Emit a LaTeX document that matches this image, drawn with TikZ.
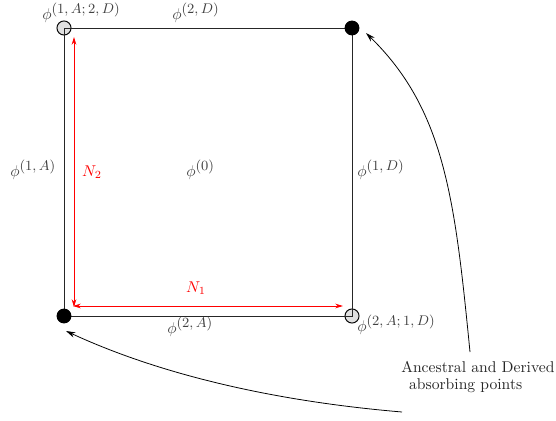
\documentclass[tikz,border=0pt]{standalone}
\usetikzlibrary{arrows.meta}
\newcommand\ph[1]{\phi^{\mbox{\small$#1$}}}
\begin{document}
\begin{tikzpicture}[x=0.64pt,y=-0.64pt,
  edge/.style={draw=black!85, line width=0.6pt},
  redarr/.style={draw=red, line width=0.6pt, {Stealth[length=5pt,width=3pt]}-{Stealth[length=5pt,width=3pt]}},
  callout/.style={draw=black, line width=0.5pt, -{Stealth[length=6pt,width=3.5pt]}},
  lbl/.style={text=black!75, inner sep=0pt, anchor=west},
  rlbl/.style={text=red, inner sep=0pt},
  opendot/.style={circle, draw=black, fill=black!12, line width=0.6pt, minimum size=9pt, inner sep=0pt},
  fulldot/.style={circle, fill=black, minimum size=9.5pt, inner sep=0pt}]
\useasboundingbox (0,0) rectangle (556,421);
% corners
\node[opendot] (tl) at (64,28) {};
\node[opendot] (br) at (352,316) {};
\coordinate (TL) at (64,28);
\coordinate (TR) at (352,28);
\coordinate (BL) at (64,316);
\coordinate (BR) at (352,316);
\draw[edge] (TL) -- (TR) -- (BR) -- (BL) -- cycle;
\node[fulldot] (tr) at (352,28) {};
\node[fulldot] (bl) at (64,316) {};
% red arrows
\coordinate (v1) at (74,37);
\coordinate (v2) at (74,307);
\coordinate (h1) at (73,306);
\coordinate (h2) at (343,306);
\draw[redarr] (v1) -- (v2);
\draw[redarr] (h1) -- (h2);
% labels
\node[lbl] (l1) at (42,13) {$\ph{(1,A;2,D)}$};
\node[lbl] (l2) at (172,13) {$\ph{(2,D)}$};
\node[lbl] (l3) at (10,170) {$\ph{(1,A)}$};
\node[rlbl] (n2) at (92,172) {$N_2$};
\node[lbl] (l0) at (186,170) {$\ph{(0)}$};
\node[lbl] (l4) at (357,170) {$\ph{(1,D)}$};
\node[rlbl] (n1) at (196,288) {$N_1$};
\node[lbl] (l5) at (167,327) {$\ph{(2,A)}$};
\node[lbl] (l6) at (357,325) {$\ph{(2,A;1,D)}$};
\node[text=black!85, align=left, inner sep=0pt, anchor=west] (txt) at (401,377) {Ancestral and Derived\\[-1pt]\hspace{0.5em}absorbing points};
% callouts
\coordinate (c1) at (470,352);
\coordinate (c2) at (402,412);
\draw[callout] (c1) .. controls (455,200) and (445,110) .. (366,33);
\draw[callout] (c2) .. controls (260,400) and (150,370) .. (66,331);
\end{tikzpicture}
\end{document}
